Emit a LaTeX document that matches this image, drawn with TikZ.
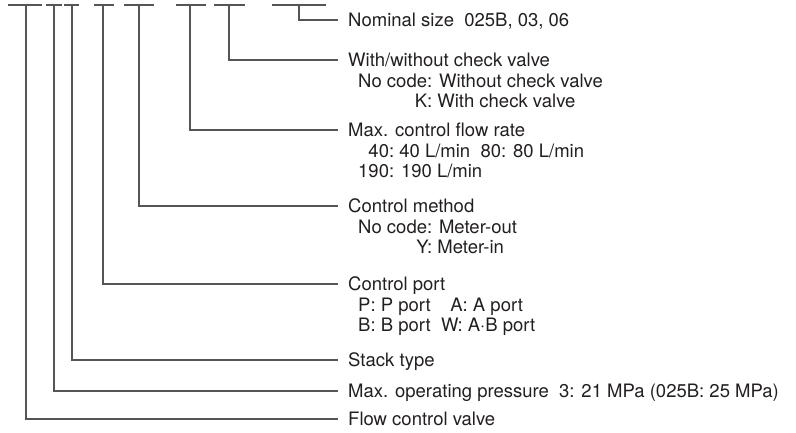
\documentclass[tikz,border=0pt]{standalone}
\usepackage{fontspec}
\setmainfont{TeX Gyre Heros}
\usepackage{calc}
\usetikzlibrary{positioning}
\definecolor{leadergray}{RGB}{85,85,85}
\definecolor{textgray}{RGB}{35,31,32}
\newcommand{\codebox}[2]{\makebox[\widthof{#1}][r]{#2}}

\begin{document}
\begin{tikzpicture}[x=1pt, y=-1pt,
    field/.style={anchor=west, inner sep=0pt, text height=13.3pt, text depth=0pt,
                  font=\fontsize{18.5}{20}\selectfont, text=textgray},
    option/.style={field, anchor=north west},
    leader/.style={draw=leadergray, line width=1.1pt}
]
    \useasboundingbox (0,0) rectangle (796,433);
    % code segments along the top
    \foreach \a/\b/\v/\n in {8/42/26/fcv, 46/62/54/press, 64/79/72/stack,
                             94/114/103/port, 124/154/139/meth, 176/206/190/rate,
                             214/245/229/chk, 272/326/299/nom} {
        \draw[leader] (\a,5) -- (\b,5);
        \coordinate (top-\n) at (\v,5);
    }

    \node[field] (nom) at (348,20) {Nominal size\ \ 025B, 03, 06};

    \node[field] (chk) at (348,60) {With/without check valve};
    \node[option, below right=6.7pt and 10pt of chk.south west] (chk-a) {No code: Without check valve};
    \node[option, below right=6.7pt and 0pt of chk-a.south west] (chk-b) {\codebox{No code:}{K:} With check valve};

    \node[field] (rate) at (348,130) {Max. control flow rate};
    \node[option, below right=6.7pt and 10pt of rate.south west] (rate-a) {\codebox{190:}{40:} 40 L/min\ \ 80: 80 L/min};
    \node[option, below right=6.7pt and 0pt of rate-a.south west] (rate-b) {190: 190 L/min};

    \node[field] (meth) at (348,206) {Control method};
    \node[option, below right=6.7pt and 10pt of meth.south west] (meth-a) {No code: Meter-out};
    \node[option, below right=6.7pt and 0pt of meth-a.south west] (meth-b) {\codebox{No code:}{Y:} Meter-in};

    \node[field] (port) at (348,284) {Control port};
    \node[option, below right=6.7pt and 10pt of port.south west] (port-a) {P: P port\ \ \ \codebox{W:}{A:} A port};
    \node[option, below right=6.7pt and 0pt of port-a.south west] (port-b) {B: B port\ \ W: A·B port};

    \node[field] (stack) at (348,360) {Stack type};
    \node[field] (press) at (348,391) {Max. operating pressure\ \ 3: 21 MPa (025B: 25 MPa)};
    \node[field] (fcv) at (348,419) {Flow control valve};

    % leaders from the code segments to the texts
    \foreach \n in {nom, chk, rate, meth, port, stack, press, fcv}
        \draw[leader] (top-\n) |- ([xshift=-10pt]\n.west);
\end{tikzpicture}
\end{document}
